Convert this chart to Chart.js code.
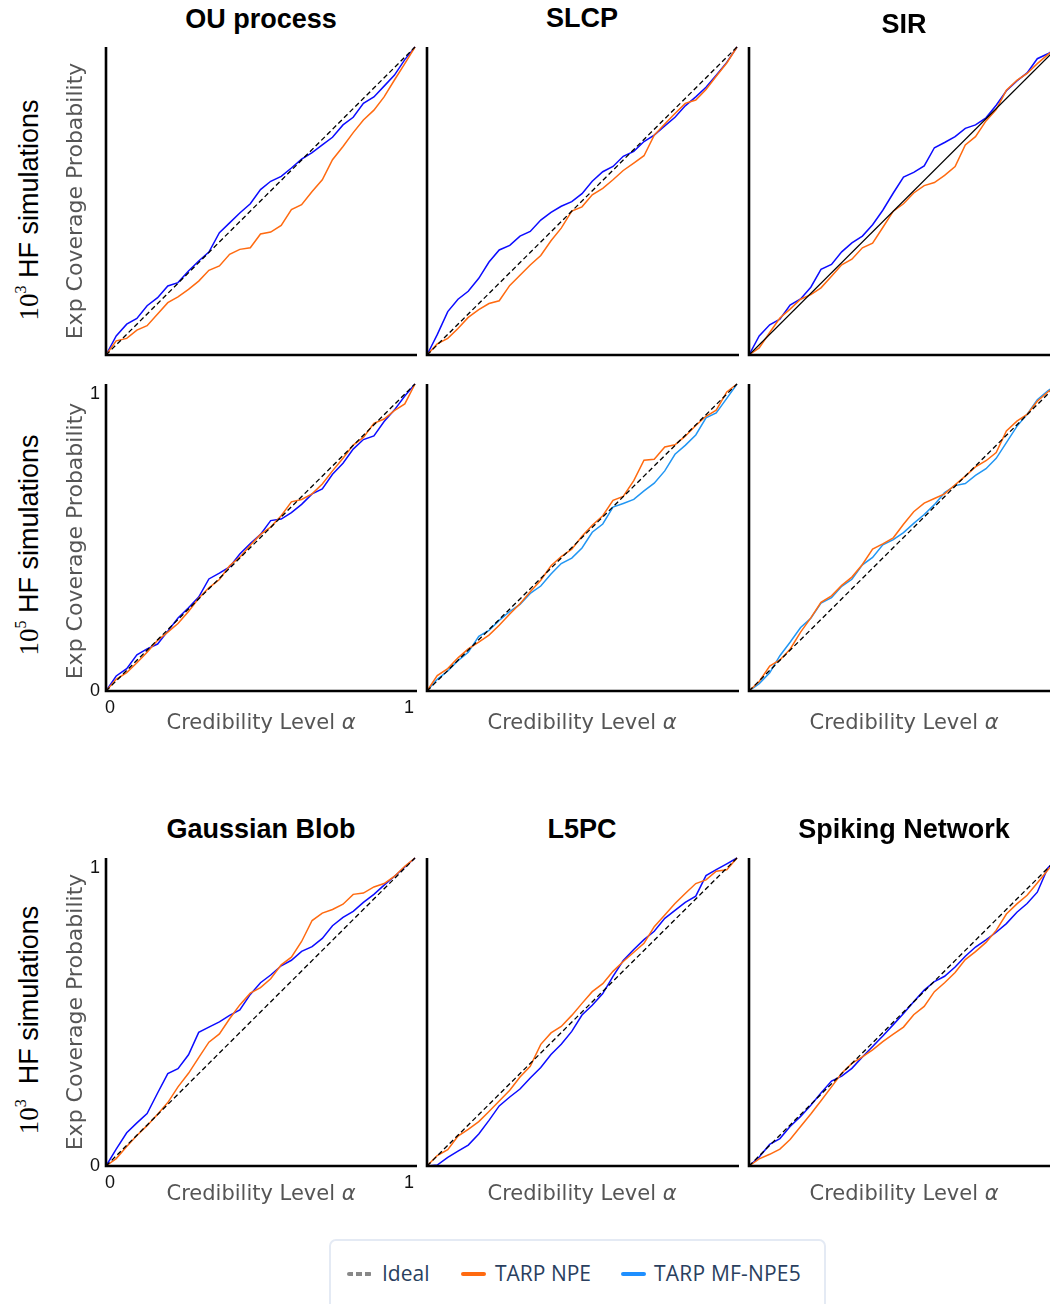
<!DOCTYPE html>
<html>
<head>
<meta charset="utf-8">
<script src="https://cdn.jsdelivr.net/npm/chart.js@4.4.0/dist/chart.umd.min.js"></script>
<style>
  html, body { margin: 0; padding: 0; background: #fff; }
  #stage { position: relative; width: 1050px; height: 1304px; overflow: hidden; }
  #stage canvas { position: absolute; }
  .title { position: absolute; transform: translate(-50%, -50%); font: bold 27px "Liberation Sans", Arial, sans-serif; line-height: 1; color: #000; white-space: nowrap; }
  .rowlabel { position: absolute; transform: translate(-50%, -50%) rotate(-90deg); font: 27px "Liberation Sans", Arial, sans-serif; line-height: 1; color: #000; white-space: nowrap; }
  .rowlabel .num { font-family: "Liberation Serif", serif; }
  .rowlabel sup { font-size: 16px; vertical-align: 12px; line-height: 0; }
  .ylab { position: absolute; transform: translate(-50%, -50%) rotate(-90deg); font: 22px "DejaVu Sans", sans-serif; line-height: 1; color: #555; white-space: nowrap; }
  .xlab { position: absolute; transform: translate(-50%, -50%); font: 21px "DejaVu Sans", sans-serif; line-height: 1; color: #555; white-space: nowrap; }
  .xlab i { font-style: italic; }
  #legend { position: absolute; left: 329px; top: 1239px; width: 497px; height: 80px; border: 2px solid #e4eaf4; border-radius: 7px; box-sizing: border-box; }
  .lg-line { position: absolute; height: 4px; width: 25px; border-radius: 2px; }
  .lg-text { position: absolute; font: 21px "Open Sans", sans-serif; color: #2a3f5f; line-height: 1; white-space: nowrap; }
</style>
</head>
<body>
<div id="stage"></div>
<script>
// Expected coverage (TARP) curves

const alpha = [0, 0.033, 0.067, 0.1, 0.133, 0.167, 0.2, 0.233, 0.267, 0.3, 0.333, 0.367, 0.4, 0.433, 0.467,
  0.5, 0.533, 0.567, 0.6, 0.633, 0.667, 0.7, 0.733, 0.767, 0.8, 0.833, 0.867, 0.9, 0.933, 0.967, 1];
const idealX = [0, 1];
const idealY = [0, 1];

// row 1: 10^3 HF simulations
const ouNpe = [0, 0.046, 0.054, 0.081, 0.095, 0.133, 0.170, 0.189, 0.213, 0.240, 0.275, 0.289, 0.327, 0.343, 0.348,
  0.393, 0.399, 0.421, 0.472, 0.488, 0.531, 0.569, 0.634, 0.677, 0.722, 0.763, 0.795, 0.838, 0.892, 0.946, 1];
const ouMf = [0, 0.062, 0.100, 0.119, 0.160, 0.186, 0.224, 0.235, 0.273, 0.305, 0.334, 0.397, 0.429, 0.461, 0.491,
  0.537, 0.564, 0.580, 0.607, 0.636, 0.657, 0.682, 0.707, 0.747, 0.772, 0.817, 0.838, 0.873, 0.908, 0.959, 1];
const slcpNpe = [0, 0.036, 0.054, 0.086, 0.122, 0.147, 0.167, 0.176, 0.226, 0.259, 0.292, 0.323, 0.371, 0.412, 0.467,
  0.481, 0.520, 0.541, 0.569, 0.599, 0.623, 0.647, 0.714, 0.750, 0.784, 0.817, 0.828, 0.862, 0.905, 0.948, 1];
const slcpMf = [0, 0.066, 0.141, 0.181, 0.207, 0.249, 0.302, 0.341, 0.356, 0.386, 0.401, 0.438, 0.463, 0.483, 0.498,
  0.524, 0.564, 0.595, 0.612, 0.645, 0.661, 0.693, 0.714, 0.744, 0.772, 0.809, 0.838, 0.869, 0.908, 0.950, 1];
const sirNpe = [0, 0.023, 0.073, 0.120, 0.149, 0.181, 0.196, 0.218, 0.256, 0.293, 0.311, 0.348, 0.363, 0.414, 0.467,
  0.491, 0.526, 0.550, 0.560, 0.583, 0.612, 0.682, 0.709, 0.760, 0.797, 0.860, 0.892, 0.914, 0.946, 0.975, 1];
const sirMf = [0, 0.062, 0.098, 0.116, 0.162, 0.182, 0.220, 0.278, 0.294, 0.335, 0.364, 0.386, 0.423, 0.470, 0.526,
  0.578, 0.593, 0.614, 0.673, 0.690, 0.709, 0.736, 0.747, 0.770, 0.811, 0.858, 0.890, 0.916, 0.962, 0.978, 1];

// row 2: 10^5 HF simulations
const ou5Npe = [0, 0.038, 0.060, 0.092, 0.126, 0.165, 0.192, 0.220, 0.259, 0.302, 0.336, 0.363, 0.408, 0.436, 0.475,
  0.510, 0.534, 0.571, 0.616, 0.624, 0.642, 0.674, 0.717, 0.758, 0.801, 0.826, 0.872, 0.886, 0.913, 0.935, 1];
const ou5Mf = [0, 0.049, 0.073, 0.118, 0.137, 0.153, 0.195, 0.238, 0.271, 0.306, 0.365, 0.384, 0.404, 0.446, 0.480,
  0.510, 0.555, 0.560, 0.581, 0.608, 0.642, 0.658, 0.706, 0.742, 0.788, 0.819, 0.831, 0.878, 0.915, 0.961, 1];
const slcp5Npe = [0, 0.050, 0.073, 0.108, 0.137, 0.159, 0.182, 0.214, 0.251, 0.284, 0.323, 0.361, 0.408, 0.438, 0.462,
  0.504, 0.540, 0.571, 0.621, 0.634, 0.685, 0.752, 0.755, 0.795, 0.802, 0.830, 0.865, 0.895, 0.915, 0.974, 1];
const slcp5Mf = [0, 0.038, 0.065, 0.099, 0.126, 0.178, 0.197, 0.230, 0.259, 0.282, 0.318, 0.342, 0.381, 0.415, 0.433,
  0.466, 0.517, 0.544, 0.599, 0.611, 0.624, 0.652, 0.677, 0.717, 0.771, 0.800, 0.834, 0.890, 0.906, 0.953, 1];
const sir5Npe = [0, 0.031, 0.081, 0.101, 0.136, 0.192, 0.238, 0.289, 0.310, 0.344, 0.371, 0.412, 0.462, 0.479, 0.499,
  0.543, 0.584, 0.612, 0.627, 0.642, 0.672, 0.700, 0.730, 0.750, 0.777, 0.847, 0.879, 0.901, 0.944, 0.974, 1];
const sir5Mf = [0, 0.024, 0.059, 0.115, 0.159, 0.207, 0.237, 0.286, 0.304, 0.341, 0.364, 0.411, 0.435, 0.476, 0.493,
  0.516, 0.546, 0.575, 0.607, 0.646, 0.669, 0.676, 0.702, 0.724, 0.758, 0.809, 0.862, 0.901, 0.949, 0.978, 1];

// row 3: 10^3 HF simulations
const gbNpe = [0, 0.024, 0.063, 0.099, 0.131, 0.168, 0.206, 0.257, 0.301, 0.352, 0.402, 0.429, 0.478, 0.523, 0.561,
  0.579, 0.608, 0.653, 0.678, 0.729, 0.797, 0.821, 0.833, 0.850, 0.882, 0.886, 0.906, 0.917, 0.940, 0.973, 1];
const gbMf = [0, 0.055, 0.108, 0.140, 0.170, 0.237, 0.300, 0.316, 0.361, 0.434, 0.451, 0.468, 0.489, 0.507, 0.557,
  0.595, 0.620, 0.650, 0.668, 0.697, 0.712, 0.739, 0.780, 0.807, 0.827, 0.856, 0.882, 0.912, 0.940, 0.971, 1];
const l5Npe = [0, 0.034, 0.053, 0.097, 0.119, 0.144, 0.177, 0.211, 0.246, 0.289, 0.324, 0.395, 0.432, 0.453, 0.489,
  0.528, 0.566, 0.592, 0.632, 0.664, 0.694, 0.723, 0.777, 0.815, 0.852, 0.885, 0.917, 0.929, 0.957, 0.962, 1];
const l5Mf = [0, 0.003, 0.028, 0.048, 0.068, 0.104, 0.148, 0.195, 0.224, 0.250, 0.286, 0.320, 0.362, 0.395, 0.437,
  0.490, 0.522, 0.560, 0.616, 0.667, 0.703, 0.735, 0.762, 0.804, 0.830, 0.856, 0.876, 0.943, 0.962, 0.981, 1];
const snNpe = [0, 0.023, 0.038, 0.055, 0.086, 0.128, 0.169, 0.212, 0.257, 0.301, 0.333, 0.354, 0.377, 0.404, 0.428,
  0.451, 0.491, 0.518, 0.566, 0.595, 0.628, 0.670, 0.696, 0.726, 0.765, 0.818, 0.851, 0.879, 0.919, 0.961, 1];
const snMf = [0, 0.029, 0.070, 0.089, 0.128, 0.161, 0.197, 0.237, 0.276, 0.292, 0.317, 0.354, 0.388, 0.422, 0.459,
  0.495, 0.533, 0.571, 0.599, 0.616, 0.646, 0.681, 0.711, 0.734, 0.759, 0.787, 0.824, 0.852, 0.889, 0.968, 1];

const ORANGE = '#ff6a10';
const DARK_BLUE = '#0b0bff';
const LIGHT_BLUE = '#2196f3';

// panel layout (pixel box of the unit square)
const COLS = [{ left: 106, w: 309 }, { left: 427, w: 310 }, { left: 749, w: 309 }];
const ROWS = [{ top: 47, h: 308 }, { top: 384, h: 307 }, { top: 858, h: 308 }];
const PAD = { left: 30, right: 8, top: 8, bottom: 30 };

const panels = [
  { r: 0, c: 0, npe: ouNpe, mf: ouMf, mfColor: DARK_BLUE },
  { r: 0, c: 1, npe: slcpNpe, mf: slcpMf, mfColor: DARK_BLUE },
  { r: 0, c: 2, npe: sirNpe, mf: sirMf, mfColor: DARK_BLUE, solidIdeal: true },
  { r: 1, c: 0, npe: ou5Npe, mf: ou5Mf, mfColor: DARK_BLUE, ticks: true },
  { r: 1, c: 1, npe: slcp5Npe, mf: slcp5Mf, mfColor: LIGHT_BLUE },
  { r: 1, c: 2, npe: sir5Npe, mf: sir5Mf, mfColor: LIGHT_BLUE },
  { r: 2, c: 0, npe: gbNpe, mf: gbMf, mfColor: DARK_BLUE, ticks: true },
  { r: 2, c: 1, npe: l5Npe, mf: l5Mf, mfColor: DARK_BLUE },
  { r: 2, c: 2, npe: snNpe, mf: snMf, mfColor: DARK_BLUE }
];

// axis spines and the 0 / 1 tick labels, placed with the chart's own scales
const panelAxes = {
  id: 'panelAxes',
  afterDatasetsDraw(chart, args, opts) {
    const { ctx, scales: { x, y } } = chart;
    const x0 = x.getPixelForValue(0), x1 = x.getPixelForValue(1);
    const y0 = y.getPixelForValue(0), y1 = y.getPixelForValue(1);
    ctx.save();
    ctx.strokeStyle = '#000';
    ctx.lineWidth = 2.6;
    ctx.beginPath();
    ctx.moveTo(x0, y1);
    ctx.lineTo(x0, y0);
    ctx.lineTo(x1 + 2, y0);
    ctx.stroke();
    if (opts.ticks) {
      ctx.fillStyle = '#111';
      ctx.font = '18px "Liberation Sans", Arial, sans-serif';
      ctx.textAlign = 'right';
      ctx.textBaseline = 'top';
      ctx.fillText('1', x0 - 6, y1 + 1);
      ctx.textBaseline = 'middle';
      ctx.fillText('0', x0 - 6, y0);
      ctx.textBaseline = 'top';
      ctx.textAlign = 'left';
      ctx.fillText('0', x0 - 1, y0 + 8);
      ctx.textAlign = 'right';
      ctx.fillText('1', x1 - 1, y0 + 8);
    }
    ctx.restore();
  }
};

function toPoints(xs, ys) {
  return xs.map((v, i) => ({ x: v, y: ys[i] }));
}

function makePanel(p) {
  const col = COLS[p.c], row = ROWS[p.r];
  const canvas = document.createElement('canvas');
  canvas.width = col.w + PAD.left + PAD.right;
  canvas.height = row.h + PAD.top + PAD.bottom;
  canvas.style.left = (col.left - PAD.left) + 'px';
  canvas.style.top = (row.top - PAD.top) + 'px';
  document.getElementById('stage').appendChild(canvas);

  new Chart(canvas.getContext('2d'), {
    type: 'line',
    data: {
      datasets: [
        {
          label: 'Ideal',
          data: toPoints(idealX, idealY),
          borderColor: '#000',
          borderWidth: p.solidIdeal ? 1.1 : 1.3,
          borderDash: p.solidIdeal ? [] : [5, 3]
        },
        {
          label: 'TARP NPE',
          data: toPoints(alpha, p.npe),
          borderColor: ORANGE,
          borderWidth: 1.5
        },
        {
          label: 'TARP MF-NPE5',
          data: toPoints(alpha, p.mf),
          borderColor: p.mfColor,
          borderWidth: 1.5
        }
      ]
    },
    options: {
      responsive: false,
      animation: false,
      layout: { padding: PAD },
      elements: { point: { radius: 0 }, line: { tension: 0 } },
      datasets: { line: { clip: false } },
      scales: {
        x: { type: 'linear', min: 0, max: 1, display: false },
        y: { type: 'linear', min: 0, max: 1, display: false }
      },
      plugins: {
        legend: { display: false },
        tooltip: { enabled: false },
        panelAxes: { ticks: !!p.ticks }
      }
    },
    plugins: [panelAxes]
  });
}

function addText(cls, html, x, y) {
  const d = document.createElement('div');
  d.className = cls;
  d.innerHTML = html;
  d.style.left = x + 'px';
  d.style.top = y + 'px';
  document.getElementById('stage').appendChild(d);
}

function drawLabels() {
  // titles
  addText('title', 'OU process', 261, 19);
  addText('title', 'SLCP', 582, 18);
  addText('title', 'SIR', 904, 24);
  addText('title', 'Gaussian Blob', 261, 829);
  addText('title', 'L5PC', 582, 829);
  addText('title', 'Spiking Network', 904, 829);

  // row labels
  addText('rowlabel', '<span class="num">10<sup>3</sup></span> HF simulations', 29, 210);
  addText('rowlabel', '<span class="num">10<sup>5</sup></span> HF simulations', 29, 545);
  addText('rowlabel', '<span class="num">10<sup>3</sup></span>&nbsp; HF simulations', 29, 1020);

  // y axis titles
  addText('ylab', 'Exp Coverage Probability', 75, 201);
  addText('ylab', 'Exp Coverage Probability', 75, 541);
  addText('ylab', 'Exp Coverage Probability', 75, 1012);

  // x axis titles
  [261, 582, 904].forEach(cx => {
    addText('xlab', 'Credibility Level <i>α</i>', cx, 722);
    addText('xlab', 'Credibility Level <i>α</i>', cx, 1193);
  });
}

function drawLegend() {
  const lg = document.createElement('div');
  lg.id = 'legend';
  lg.innerHTML = `
    <div class="lg-line" style="left:16px; top:31px; background: repeating-linear-gradient(90deg, #888 0 6px, transparent 6px 9px);"></div>
    <div class="lg-text" style="left:51px; top:22px;">Ideal</div>
    <div class="lg-line" style="left:130px; top:31px; background:${ORANGE};"></div>
    <div class="lg-text" style="left:164px; top:22px;">TARP NPE</div>
    <div class="lg-line" style="left:290px; top:31px; background:#1e8fff;"></div>
    <div class="lg-text" style="left:323px; top:22px; letter-spacing:0.2px;">TARP MF-NPE5</div>
  `;
  document.getElementById('stage').appendChild(lg);
}

window.addEventListener('load', () => {
  panels.forEach(makePanel);
  drawLabels();
  drawLegend();
});
</script>
</body>
</html>
